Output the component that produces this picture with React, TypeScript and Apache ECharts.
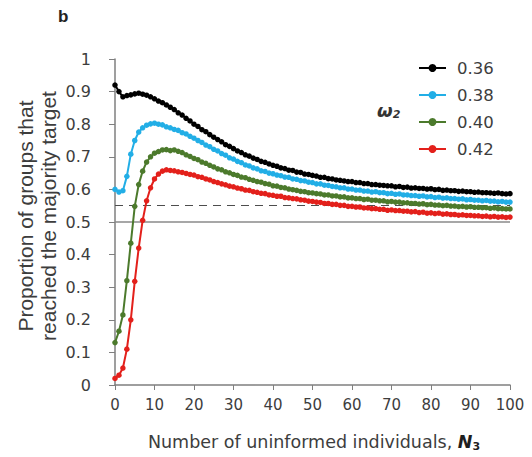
import React, { useEffect, useRef } from "react";
import * as echarts from "echarts";

// Proportion of groups that reached the majority target, for N3 = 0..100
const omegaLabels = ["0.36", "0.38", "0.40", "0.42"];
const seriesColors = ["#000000", "#22aee6", "#4c7a2c", "#e3201b"];

const black036 = [
  0.920, 0.900, 0.884, 0.888, 0.890, 0.893, 0.895, 0.892, 0.889, 0.884,
  0.878, 0.871, 0.866, 0.859, 0.852, 0.845, 0.835, 0.828, 0.818, 0.810,
  0.800, 0.793, 0.783, 0.777, 0.768, 0.760, 0.753, 0.746, 0.737, 0.732,
  0.725, 0.718, 0.713, 0.706, 0.702, 0.696, 0.692, 0.686, 0.683, 0.678,
  0.674, 0.671, 0.666, 0.664, 0.659, 0.658, 0.653, 0.652, 0.647, 0.646,
  0.643, 0.641, 0.637, 0.637, 0.633, 0.632, 0.629, 0.628, 0.626, 0.624,
  0.624, 0.621, 0.621, 0.618, 0.618, 0.615, 0.615, 0.613, 0.612, 0.611,
  0.611, 0.608, 0.609, 0.606, 0.607, 0.604, 0.605, 0.603, 0.603, 0.601,
  0.602, 0.599, 0.600, 0.597, 0.598, 0.596, 0.596, 0.594, 0.595, 0.593,
  0.593, 0.591, 0.592, 0.590, 0.590, 0.589, 0.588, 0.589, 0.587, 0.586,
  0.587,
];

const blue038 = [
  0.600, 0.592, 0.596, 0.640, 0.708, 0.750, 0.776, 0.789, 0.797, 0.801,
  0.803, 0.800, 0.798, 0.792, 0.789, 0.784, 0.781, 0.774, 0.770, 0.763,
  0.757, 0.750, 0.744, 0.736, 0.731, 0.723, 0.718, 0.710, 0.705, 0.697,
  0.693, 0.686, 0.682, 0.675, 0.672, 0.666, 0.663, 0.657, 0.655, 0.650,
  0.648, 0.644, 0.642, 0.638, 0.637, 0.632, 0.631, 0.627, 0.626, 0.622,
  0.621, 0.617, 0.617, 0.613, 0.612, 0.609, 0.608, 0.605, 0.605, 0.601,
  0.601, 0.598, 0.598, 0.595, 0.595, 0.592, 0.593, 0.590, 0.590, 0.587,
  0.588, 0.585, 0.586, 0.583, 0.583, 0.581, 0.581, 0.579, 0.580, 0.577,
  0.578, 0.575, 0.576, 0.573, 0.574, 0.572, 0.572, 0.570, 0.571, 0.568,
  0.569, 0.567, 0.567, 0.565, 0.566, 0.564, 0.564, 0.562, 0.563, 0.561,
  0.561,
];

const green040 = [
  0.130, 0.165, 0.215, 0.320, 0.435, 0.548, 0.615, 0.656, 0.684, 0.700,
  0.711, 0.716, 0.721, 0.722, 0.719, 0.721, 0.717, 0.713, 0.706, 0.701,
  0.695, 0.691, 0.684, 0.680, 0.674, 0.669, 0.663, 0.660, 0.654, 0.651,
  0.646, 0.643, 0.638, 0.636, 0.631, 0.628, 0.624, 0.622, 0.618, 0.616,
  0.611, 0.610, 0.606, 0.605, 0.601, 0.599, 0.597, 0.594, 0.593, 0.590,
  0.589, 0.587, 0.586, 0.583, 0.583, 0.580, 0.580, 0.577, 0.577, 0.574,
  0.574, 0.572, 0.572, 0.569, 0.570, 0.567, 0.567, 0.565, 0.565, 0.562,
  0.563, 0.561, 0.561, 0.559, 0.559, 0.557, 0.557, 0.555, 0.556, 0.553,
  0.554, 0.552, 0.552, 0.550, 0.551, 0.549, 0.549, 0.547, 0.548, 0.546,
  0.547, 0.545, 0.545, 0.544, 0.544, 0.542, 0.543, 0.541, 0.541, 0.540,
  0.540,
];

const red042 = [
  0.020, 0.030, 0.052, 0.110, 0.200, 0.318, 0.420, 0.505, 0.565, 0.605,
  0.632, 0.647, 0.656, 0.660, 0.658, 0.657, 0.654, 0.652, 0.649, 0.646,
  0.644, 0.639, 0.637, 0.632, 0.629, 0.624, 0.621, 0.617, 0.614, 0.610,
  0.608, 0.604, 0.602, 0.598, 0.597, 0.593, 0.591, 0.588, 0.587, 0.583,
  0.582, 0.579, 0.579, 0.575, 0.574, 0.572, 0.571, 0.568, 0.567, 0.564,
  0.563, 0.561, 0.560, 0.557, 0.557, 0.554, 0.554, 0.551, 0.551, 0.548,
  0.548, 0.546, 0.546, 0.543, 0.543, 0.541, 0.541, 0.539, 0.539, 0.536,
  0.537, 0.535, 0.535, 0.533, 0.533, 0.531, 0.532, 0.529, 0.530, 0.527,
  0.528, 0.526, 0.527, 0.524, 0.525, 0.523, 0.523, 0.521, 0.522, 0.520,
  0.520, 0.519, 0.519, 0.517, 0.518, 0.516, 0.517, 0.515, 0.516, 0.514,
  0.515,
];

const seriesValues = [black036, blue038, green040, red042];
const dashedRef = 0.545;
const solidRef = 0.5;

const FONT = "DejaVu Sans";
const TITLE_FONT = "Liberation Sans";

export default function App() {
  const ref = useRef<HTMLDivElement>(null);

  useEffect(() => {
    if (!ref.current) return;
    const chart = echarts.init(ref.current, undefined, { renderer: "svg" });

    const series: any[] = seriesValues.map((vals, k) => ({
      name: omegaLabels[k],
      type: "line",
      data: vals.map((v, i) => [i, v]),
      symbol: "circle",
      symbolSize: 5.5,
      showSymbol: true,
      color: seriesColors[k],
      lineStyle: { width: 2, color: seriesColors[k] },
      itemStyle: { color: seriesColors[k] },
      z: 3 + k,
      markLine:
        k === 0
          ? {
              silent: true,
              symbol: "none",
              label: { show: false },
              z: 1,
              data: [
                { yAxis: dashedRef, lineStyle: { type: [8, 6], color: "#4d4d4d", width: 1.2 } },
                { yAxis: solidRef, lineStyle: { type: "solid", color: "#8a8a8a", width: 1.5 } },
              ],
            }
          : undefined,
    }));

    chart.setOption({
      animation: false,
      backgroundColor: "#ffffff",
      grid: { left: 115, right: 22, top: 59, bottom: 72 },
      xAxis: {
        type: "value",
        min: 0,
        max: 100,
        interval: 10,
        axisLine: { show: true, lineStyle: { color: "#7f7f7f", width: 1.5 } },
        axisTick: { show: true, length: 5, lineStyle: { color: "#7f7f7f" } },
        axisLabel: { color: "#3d3d3d", fontSize: 15, fontFamily: FONT, margin: 12 },
        splitLine: { show: false },
      },
      yAxis: {
        type: "value",
        min: 0,
        max: 1,
        interval: 0.1,
        axisLine: { show: true, lineStyle: { color: "#7f7f7f", width: 1.5 } },
        axisTick: { show: true, length: 6, lineStyle: { color: "#7f7f7f" } },
        axisLabel: { color: "#3d3d3d", fontSize: 16, fontFamily: FONT, margin: 24 },
        splitLine: { show: false },
      },
      legend: {
        orient: "vertical",
        left: 413,
        top: 54,
        itemWidth: 27,
        itemHeight: 10,
        itemGap: 9,
        data: omegaLabels,
        textStyle: { color: "#3d3d3d", fontSize: 16.5, fontFamily: FONT, padding: [0, 0, 0, 6], lineHeight: 18 },
      },
      graphic: [
        {
          type: "text",
          left: 58,
          top: 8,
          style: { text: "b", font: `bold 17px ${TITLE_FONT}`, fill: "#222" },
        },
        {
          type: "text",
          x: 377,
          y: 110,
          style: {
            text: "{w|ω}{s|2}",
            textVerticalAlign: "middle",
            rich: {
              w: { font: `italic bold 18px ${FONT}`, fill: "#333" },
              s: { font: `italic bold 11px ${FONT}`, fill: "#333", padding: [9, 0, 0, 0] },
            },
          },
        },
        {
          type: "text",
          x: 25,
          y: 216,
          rotation: Math.PI / 2,
          style: {
            text: "Proportion of groups that",
            font: `21px ${TITLE_FONT}`,
            fill: "#3d3d3d",
            textAlign: "center",
            textVerticalAlign: "middle",
          },
        },
        {
          type: "text",
          x: 48,
          y: 216,
          rotation: Math.PI / 2,
          style: {
            text: "reached the majority target",
            font: `21px ${TITLE_FONT}`,
            fill: "#3d3d3d",
            textAlign: "center",
            textVerticalAlign: "middle",
          },
        },
        {
          type: "text",
          x: 314,
          y: 442,
          style: {
            text: "{t|Number of uninformed individuals, }{n|N}{s|3}",
            textAlign: "center",
            textVerticalAlign: "middle",
            rich: {
              t: { font: `17.5px ${FONT}`, fill: "#3d3d3d" },
              n: { font: `italic bold 17.5px ${FONT}`, fill: "#1f1f1f" },
              s: { font: `bold 11px ${FONT}`, fill: "#1f1f1f", padding: [8, 0, 0, 0] },
            },
          },
        },
      ],
      series,
    });

    return () => chart.dispose();
  }, []);

  return (
    <div
      ref={ref}
      style={{ position: "fixed", left: 0, top: 0, width: 532, height: 457 }}
    />
  );
}
